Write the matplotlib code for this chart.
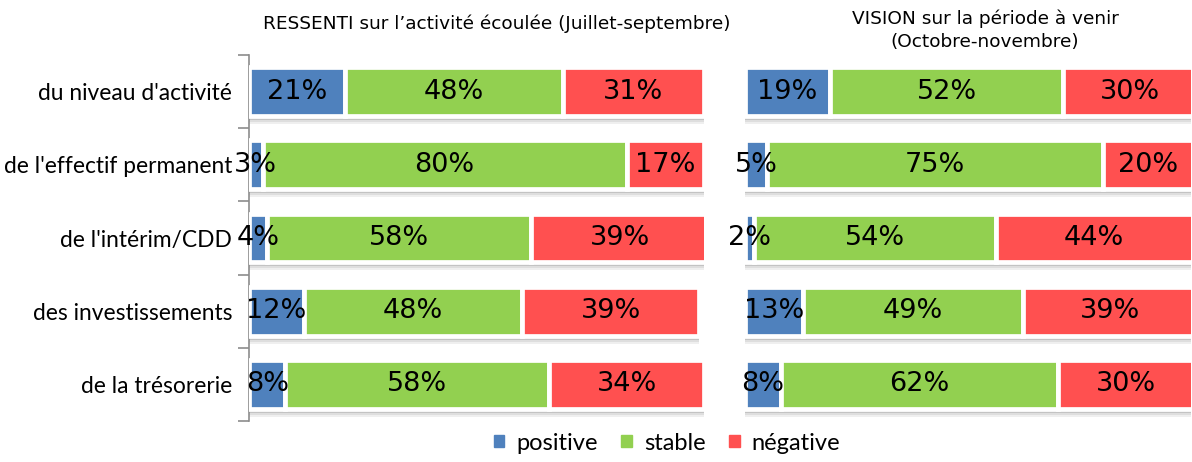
import matplotlib.pyplot as plt
import numpy as np

# categories (top to bottom)
categories = ["du niveau d'activité", "de l'effectif permanent", "de l'intérim/CDD",
              "des investissements", "de la trésorerie"]

# RESSENTI (Juillet-septembre)
past_positive = [21, 3, 4, 12, 8]
past_stable = [48, 80, 58, 48, 58]
past_negative = [31, 17, 39, 39, 34]

# VISION (Octobre-novembre)
next_positive = [19, 5, 2, 13, 8]
next_stable = [52, 75, 54, 49, 62]
next_negative = [30, 20, 44, 39, 30]

series_names = ['positive', 'stable', 'négative']
colors = ['#4F81BD', '#92D050', '#FF5050']

W, H = 1192, 462
fig = plt.figure(figsize=(W / 100, H / 100), dpi=100)

bot = (H - 421) / H
hgt = (421 - 55) / H
ax1 = fig.add_axes([249 / W, bot, 455 / W, hgt])
ax2 = fig.add_axes([745 / W, bot, 446 / W, hgt])

y = np.arange(len(categories))
px = 1 / 73.2  # one pixel in y data units
bar_h = 0.61 + 4 * px


def draw_panel(ax, pos, sta, neg, xmax):
    left = np.zeros(len(y))
    for vals, col in zip([pos, sta, neg], colors):
        vals = np.array(vals, dtype=float)
        ax.barh(y, vals, left=left, height=bar_h, color=col,
                edgecolor='white', linewidth=3.4, zorder=3)
        for yi, l, v in zip(y, left, vals):
            ax.text(l + v / 2, yi, f'{int(v)}%', ha='center', va='center',
                    fontsize=19.5, color='black', zorder=5)
        left = left + vals
    # soft shadow under each bar
    for yi, tot in zip(y, left):
        for k, a in enumerate([0.6, 0.4, 0.22, 0.1]):
            ax.barh(yi + bar_h / 2 + (1 + 2 * k) * px, tot + 0.8, left=-0.8,
                    height=2 * px, color='#6a6a6a', alpha=a, linewidth=0, zorder=1)
    ax.set_xlim(0, xmax)
    ax.set_ylim(len(y) - 0.5, -0.5)
    ax.set_xticks([])
    for s in ['top', 'right', 'bottom']:
        ax.spines[s].set_visible(False)


draw_panel(ax1, past_positive, past_stable, past_negative, 100)
draw_panel(ax2, next_positive, next_stable, next_negative, 99.6)

# left axis with boundary ticks
ax1.spines['left'].set_color('#8c8c8c')
ax1.spines['left'].set_linewidth(1.2)
ax1.set_yticks(np.arange(-0.5, len(y)), labels=[])
ax1.tick_params(axis='y', which='major', length=8, color='#8c8c8c', width=1.2)
ax1.set_yticks(y, labels=categories, minor=True)
ax1.tick_params(axis='y', which='minor', length=0, pad=12, labelsize=16.4)
for lab in ax1.get_yticklabels(minor=True):
    lab.set_fontfamily(['Lato', 'DejaVu Sans'])

ax2.spines['left'].set_visible(False)
ax2.set_yticks([])

fig.text(497 / W, 1 - 24 / H, "RESSENTI sur l\u2019activité écoulée (Juillet-septembre)",
         ha='center', va='center', fontsize=13.3)
fig.text(985 / W, 1 - 30 / H, "VISION sur la période à venir\n(Octobre-novembre)",
         ha='center', va='center', fontsize=13.3, linespacing=1.35)

handles = [plt.Rectangle((0, 0), 1, 1, color=c) for c in colors]
fig.legend(handles, series_names, loc='center', bbox_to_anchor=(667 / W, 1 - 443 / H),
           ncol=3, frameon=False, prop={'family': ['Lato', 'DejaVu Sans'], 'size': 17},
           handlelength=0.45, handleheight=0.45, handletextpad=0.5, columnspacing=1.0)

fig.savefig('out.png', dpi=100)
